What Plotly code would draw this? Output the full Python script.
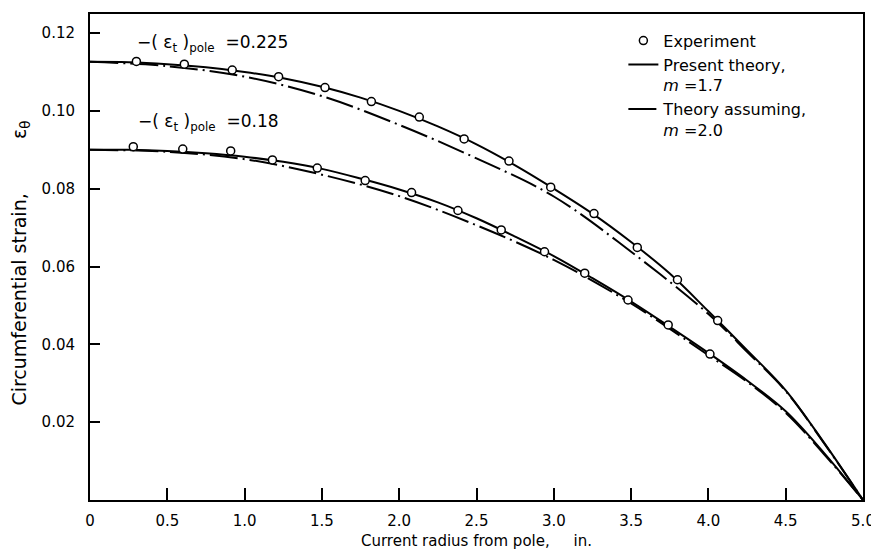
import plotly.graph_objects as go

# ---- data ----
# Experimental points, upper set  -(eps_t)pole = 0.225
exp_hi_x = [0.30, 0.61, 0.92, 1.22, 1.52, 1.82, 2.13, 2.42, 2.71, 2.98, 3.26, 3.54, 3.80, 4.06]
exp_hi_y = [0.1127, 0.1120, 0.1105, 0.1088, 0.1060, 0.1024, 0.0984, 0.0928, 0.0871, 0.0804, 0.0736, 0.0649, 0.0566, 0.0461]
# Experimental points, lower set  -(eps_t)pole = 0.18
exp_lo_x = [0.28, 0.60, 0.91, 1.18, 1.47, 1.78, 2.08, 2.38, 2.66, 2.94, 3.20, 3.48, 3.74, 4.01]
exp_lo_y = [0.0908, 0.0902, 0.0897, 0.0874, 0.0853, 0.0821, 0.0790, 0.0744, 0.0694, 0.0638, 0.0583, 0.0514, 0.0450, 0.0375]

# Present theory, m = 1.7
th_x = [0, 0.25, 0.5, 0.75, 1.0, 1.25, 1.5, 1.75, 2.0, 2.25, 2.5, 2.75, 3.0, 3.25, 3.5, 3.75, 4.0, 4.25, 4.5, 4.75, 5.0]
th_hi_y = [0.1126, 0.1125, 0.1120, 0.1112, 0.1100, 0.1084, 0.1062, 0.1034, 0.1000, 0.0960, 0.0914, 0.0860,
           0.0800, 0.0736, 0.0663, 0.0582, 0.0485, 0.0385, 0.0282, 0.0146, 0.0]
th_lo_y = [0.0900, 0.0900, 0.0897, 0.0891, 0.0882, 0.0869, 0.0851, 0.0826, 0.0798, 0.0765, 0.0724, 0.0677,
           0.0627, 0.0570, 0.0510, 0.0445, 0.0378, 0.0307, 0.0228, 0.0120, 0.0]

# Theory assuming m = 2.0
alt_x = [0, 0.5, 1.0, 1.5, 2.0, 2.5, 3.0, 3.5, 4.0, 4.25, 4.5, 4.75, 5.0]
alt_hi_y = [0.1126, 0.1115, 0.1088, 0.1038, 0.0964, 0.0878, 0.0780, 0.0638, 0.0478, 0.0381, 0.0280, 0.0145, 0.0]
alt_lo_y = [0.0900, 0.0895, 0.0876, 0.0836, 0.0781, 0.0706, 0.0617, 0.0505, 0.0372, 0.0304, 0.0224, 0.0117, 0.0]

x_ticks = [0, 0.5, 1.0, 1.5, 2.0, 2.5, 3.0, 3.5, 4.0, 4.5, 5.0]
x_ticktext = ["0", "0.5", "1.0", "1.5", "2.0", "2.5", "3.0", "3.5", "4.0", "4.5", "5.0"]
y_ticks = [0.02, 0.04, 0.06, 0.08, 0.10, 0.12]
y_ticktext = ["0.02", "0.04", "0.06", "0.08", "0.10", "0.12"]

FONT = "DejaVu Sans"
DASHDOT = "28px,5px,2px,5px"

fig = go.Figure()

line_kw = dict(color="black", width=2, shape="spline", smoothing=1.0)

fig.add_trace(go.Scatter(x=th_x, y=th_hi_y, mode="lines", line=line_kw,
                         name="Present theory,<br><i>m</i> =1.7", legendgroup="th", legendrank=2))
fig.add_trace(go.Scatter(x=th_x, y=th_lo_y, mode="lines", line=line_kw,
                         legendgroup="th", showlegend=False))
fig.add_trace(go.Scatter(x=alt_x, y=alt_hi_y, mode="lines", line=dict(line_kw, dash=DASHDOT),
                         name="Theory assuming,<br><i>m</i> =2.0", legendgroup="alt", legendrank=3))
fig.add_trace(go.Scatter(x=alt_x, y=alt_lo_y, mode="lines", line=dict(line_kw, dash=DASHDOT),
                         legendgroup="alt", showlegend=False))

mk = dict(symbol="circle", size=8, color="white", line=dict(color="black", width=1.5))
fig.add_trace(go.Scatter(x=exp_hi_x, y=exp_hi_y, mode="markers", marker=mk,
                         name="Experiment", legendgroup="exp", legendrank=1))
fig.add_trace(go.Scatter(x=exp_lo_x, y=exp_lo_y, mode="markers", marker=mk,
                         legendgroup="exp", showlegend=False))

fig.add_annotation(x=0.29, y=0.1172, xref="x", yref="y", xanchor="left", yanchor="middle",
                   text="−( ε<sub>t</sub> )<sub>pole</sub>  =0.225", showarrow=False,
                   font=dict(family=FONT, size=17, color="black"))
fig.add_annotation(x=0.30, y=0.0969, xref="x", yref="y", xanchor="left", yanchor="middle",
                   text="−( ε<sub>t</sub> )<sub>pole</sub>  =0.18", showarrow=False,
                   font=dict(family=FONT, size=17, color="black"))

axis_common = dict(showgrid=False, zeroline=False, showline=True, linecolor="black", linewidth=2,
                   mirror=True, ticks="inside", tickcolor="black", tickwidth=1.5, automargin=False,
                   tickfont=dict(family=FONT, size=15, color="black"))

fig.update_xaxes(range=[0, 5.0], tickvals=x_ticks, ticktext=x_ticktext, ticklen=12,
                 ticklabelstandoff=6,
                 title=dict(text="Current radius from pole,&nbsp;&nbsp;&nbsp;&nbsp; in.",
                            font=dict(family=FONT, size=15, color="black"), standoff=6),
                 **axis_common)
fig.update_yaxes(range=[0, 0.1249], tickvals=y_ticks, ticktext=y_ticktext, ticklen=10,
                 ticklabelstandoff=10,
                 title=dict(text="Circumferential strain," + "&nbsp;" * 9 + "ε<sub>θ</sub>" + "&nbsp;" * 2,
                            font=dict(family=FONT, size=19, color="black"), standoff=12),
                 **axis_common)

# the page body has an 8px default margin, so the figure is sized to fit the 879x552 window
fig.update_layout(
    width=871, height=544,
    margin=dict(l=82, r=16, t=6, b=52),
    plot_bgcolor="white", paper_bgcolor="white",
    font=dict(family=FONT, size=15, color="black"),
    showlegend=True,
    legend=dict(x=0.69, y=0.98, xanchor="left", yanchor="top", bgcolor="rgba(0,0,0,0)",
                font=dict(family=FONT, size=16, color="black"), valign="top",
                traceorder="normal", tracegroupgap=1),
)

fig.write_html("out.html")
